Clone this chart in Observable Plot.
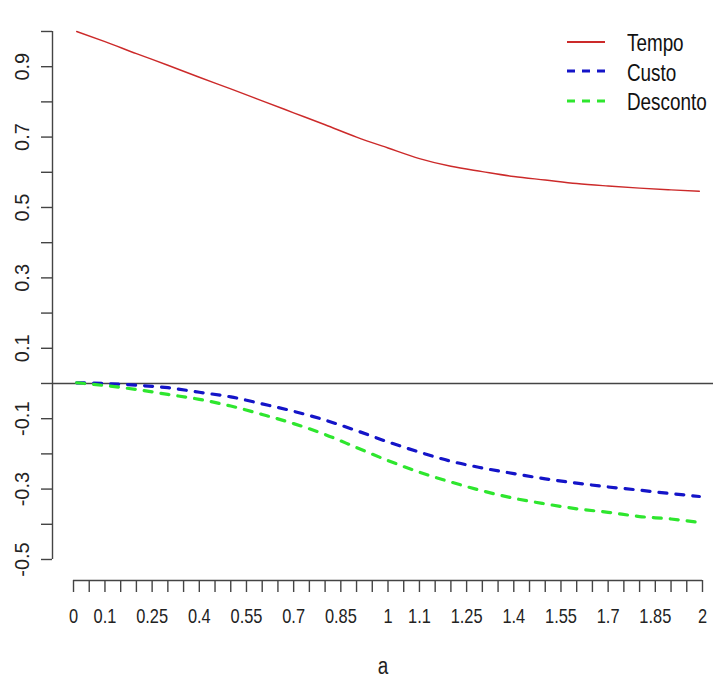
<!DOCTYPE html>
<html>
<head>
<meta charset="utf-8">
<script src="https://cdn.jsdelivr.net/npm/d3@7"></script>
<script src="https://cdn.jsdelivr.net/npm/@observablehq/plot@0.6"></script>
<style>
  html, body { margin: 0; padding: 0; background: #fff; }
  #wrap { position: relative; width: 713px; height: 679px; overflow: hidden; }
  #wrap svg { display: block; }
  .legend { position: absolute; left: 566px; top: 27px; font-family: "Liberation Sans", Arial, sans-serif; font-size: 23px; color: #111; }
  .legend .row { display: flex; align-items: center; height: 29.5px; }
  .legend svg { margin-right: 21px; flex: none; }
  .legend span { display: inline-block; transform: scaleX(0.82); transform-origin: left center; white-space: nowrap; position: relative; top: 2px; }
</style>
</head>
<body>
<div id="wrap"></div>
<script>
// Values of a where the three series were evaluated
const aValues = [0.01, 0.1, 0.2, 0.3, 0.4, 0.5, 0.6, 0.7, 0.8, 0.9, 1.0,
                 1.1, 1.2, 1.3, 1.4, 1.5, 1.6, 1.7, 1.8, 1.9, 1.99];

const tempo = [1.000, 0.971, 0.937, 0.904, 0.870, 0.837, 0.803, 0.769, 0.735, 0.700, 0.669,
               0.639, 0.617, 0.602, 0.588, 0.578, 0.568, 0.561, 0.555, 0.550, 0.546];

const custo = [0.002, 0.000, -0.005, -0.012, -0.025, -0.038, -0.058, -0.079, -0.104, -0.134, -0.166,
               -0.195, -0.221, -0.240, -0.256, -0.271, -0.283, -0.294, -0.303, -0.313, -0.321];

const desconto = [0.002, -0.006, -0.017, -0.031, -0.045, -0.064, -0.088, -0.114, -0.145, -0.182, -0.219,
                  -0.252, -0.280, -0.305, -0.326, -0.342, -0.356, -0.366, -0.378, -0.385, -0.395];

// Axis ticks: every 0.05 on x, every 0.1 on y; only some of them carry a label
const xTicks = d3.range(0, 41).map(i => +(i * 0.05).toFixed(2));
const xLabels = [0, 0.1, 0.25, 0.4, 0.55, 0.7, 0.85, 1, 1.1, 1.25, 1.4, 1.55, 1.7, 1.85, 2];
const yTicks = d3.range(0, 16).map(i => +(-0.5 + i * 0.1).toFixed(1));
const yLabels = [-0.5, -0.3, -0.1, 0.1, 0.3, 0.5, 0.7, 0.9];

const seriesNames = ["Tempo", "Custo", "Desconto"];
const seriesColors = ["#cc2a2a", "#1414c8", "#2ee62e"];

const xDomain = [-0.0668, 2.035];
const yDomain = [-0.5597, 1.088];

const rows = (vals) => aValues.map((a, i) => ({a, v: vals[i]}));
const fmt = d => String(+d.toFixed(2));
const has = (arr, d) => arr.some(v => Math.abs(v - d) < 1e-9);

const chart = Plot.plot({
  width: 713,
  height: 679,
  marginLeft: 52,
  marginRight: 0,
  marginTop: 0,
  marginBottom: 99,
  style: {fontFamily: "'Liberation Sans', Arial, sans-serif", fontSize: "20px", color: "#222", background: "#fff"},
  x: {domain: xDomain},
  y: {domain: yDomain},
  marks: [
    // reference line at zero
    Plot.ruleY([0], {stroke: "#444", strokeWidth: 1.4}),
    // axis lines spanning the tick range
    Plot.ruleX([xDomain[0]], {y1: yTicks[0], y2: yTicks[yTicks.length - 1], stroke: "#444", strokeWidth: 1.4}),
    Plot.ruleY([yDomain[0]], {x1: xTicks[0], x2: xTicks[xTicks.length - 1], stroke: "#444", strokeWidth: 1.4}),
    Plot.axisY({
      ticks: yTicks, tickSize: 11, tickRotate: -90, tickPadding: 13,
      tickFormat: d => has(yLabels, d) ? fmt(d) : "",
      stroke: "#444", strokeWidth: 1.4, fontSize: 20, label: null
    }),
    Plot.axisX({
      ticks: xTicks, tickSize: 12, tickPadding: 16,
      tickFormat: d => has(xLabels, d) ? fmt(d) : "",
      stroke: "#444", strokeWidth: 1.4, fontSize: 20, label: null
    }),
    // axis title below the tick labels
    Plot.axisX({
      ticks: [], tickSize: 0, fontSize: 23,
      label: "a", labelAnchor: "center", labelOffset: 93, labelArrow: "none"
    }),
    Plot.line(rows(tempo), {x: "a", y: "v", stroke: seriesColors[0], strokeWidth: 1.4, curve: "monotone-x"}),
    Plot.line(rows(custo), {x: "a", y: "v", stroke: seriesColors[1], strokeWidth: 3.2, strokeDasharray: "8,9", curve: "monotone-x"}),
    Plot.line(rows(desconto), {x: "a", y: "v", stroke: seriesColors[2], strokeWidth: 3.2, strokeDasharray: "8,9", curve: "monotone-x"})
  ]
});

// Condense the horizontal labels around their own anchor point (narrow lettering)
chart.querySelectorAll("text").forEach(t => {
  const tr = t.getAttribute("transform") || "";
  if (tr.includes("rotate")) return;
  t.setAttribute("transform", `${tr} scale(0.82,1)`);
});

const wrap = document.getElementById("wrap");
wrap.appendChild(chart);

// legend in the top-right corner of the plot
const legend = document.createElement("div");
legend.className = "legend";
seriesNames.forEach((name, i) => {
  const row = document.createElement("div");
  row.className = "row";
  const dash = i === 0 ? "" : ` stroke-dasharray="8,7"`;
  const w = i === 0 ? 2 : 3.2;
  row.innerHTML = `<svg width="40" height="10"><line x1="1" y1="5" x2="39" y2="5" stroke="${seriesColors[i]}" stroke-width="${w}"${dash}/></svg><span>${name}</span>`;
  legend.appendChild(row);
});
wrap.appendChild(legend);
</script>
</body>
</html>
